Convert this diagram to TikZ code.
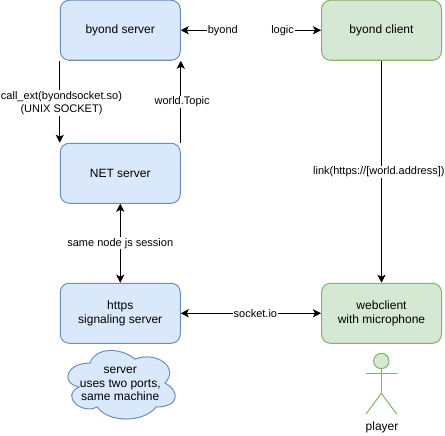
\documentclass[tikz,border=0pt]{standalone}
\usepackage{fontspec}
\setmainfont{Liberation Sans}
\usetikzlibrary{arrows.meta}
\definecolor{bluefill}{HTML}{DAE8FC}
\definecolor{bluedraw}{HTML}{6C8EBF}
\definecolor{greenfill}{HTML}{D5E8D4}
\definecolor{greendraw}{HTML}{82B366}
\tikzset{
  bluebox/.style={draw=bluedraw,fill=bluefill,rounded corners=6.75pt,minimum width=90pt,minimum height=45pt,inner sep=0pt,align=center,font=\fontsize{9}{10.8}\selectfont,line width=0.75pt},
  greenbox/.style={bluebox,draw=greendraw,fill=greenfill},
  conn/.style={line width=0.75pt,-{Stealth[length=6pt,width=6pt,inset=1.5pt]}},
  biconn/.style={line width=0.75pt,{Stealth[length=6pt,width=6pt,inset=1.5pt]}-{Stealth[length=6pt,width=6pt,inset=1.5pt]}},
  lab/.style={fill=white,inner sep=0.6pt,align=center,font=\fontsize{8.25}{10.1}\selectfont},
  bluecloud/.style={draw=bluedraw,fill=bluefill,line width=0.75pt},
  figure/.style={draw=greendraw,line width=0.75pt}
}
\begin{document}
\begin{tikzpicture}[x=0.75pt,y=-0.75pt]
\useasboundingbox (0,0) rectangle (445,435);
\node[bluebox] (bs) at (120.25,30.25) {byond server};
\node[bluebox] (net) at (120.25,173.25) {NET server};
\node[bluebox] (sig) at (120.25,313.25) {https\\signaling server};
\node[greenbox] (bc) at (381.5,30.25) {byond client};
\node[greenbox] (wc) at (381.5,313.25) {webclient\\with microphone};
\draw[conn] (bs.south west) -- (net.north west) node[lab,midway,xshift=1.3pt,yshift=-1pt] (l1) {call\_ext(byondsocket.so)\\(UNIX SOCKET)};
\draw[conn] (net.north east) -- (bs.south east) node[lab,midway,xshift=1pt] (l2) {world.Topic};
\draw[biconn] (net.south) -- (sig.north) node[lab,midway] (l3) {same node js session};
\draw[biconn] (sig.east) -- (wc.west) node[lab,pos=0.532] (l4) {socket.io};
\draw[conn] (bc.south) -- (wc.north) node[lab,midway,xshift=-2pt] (l5) {link(https://[world.address])};
\draw[biconn] (bs.east) -- (bc.west)
  node[lab,midway] (l6) {\makebox[64.5pt]{byond\hfill logic}};
\begin{scope}[shift={(60,343)},x=90pt,y=-60pt]
\path[bluecloud] (0.25,0.25)
  .. controls (0.05,0.25) and (0,0.5) .. (0.16,0.55)
  .. controls (0,0.66) and (0.18,0.9) .. (0.31,0.8)
  .. controls (0.4,1) and (0.7,1) .. (0.8,0.8)
  .. controls (1,0.8) and (1,0.6) .. (0.875,0.5)
  .. controls (1,0.3) and (0.8,0.1) .. (0.625,0.2)
  .. controls (0.5,0.05) and (0.3,0.05) .. (0.25,0.25) -- cycle;
\end{scope}
\node[align=center,font=\fontsize{9}{10.35}\selectfont] (cltext) at (120.25,384) {server\\uses two ports,\\same machine};
\node[draw=greendraw,fill=greenfill,circle,minimum size=11.5pt,inner sep=0pt,line width=0.75pt] (head) at (381.3,361) {};
\coordinate (hip) at (381.3,393.3);
\coordinate (armL) at (366,373.3);
\coordinate (armR) at (396.7,373.3);
\coordinate (footL) at (366,414);
\coordinate (footR) at (396.7,414);
\draw[figure] (head.south) -- (hip);
\draw[figure] (armL) -- (armR);
\draw[figure] (footL) -- (hip) -- (footR);
\node[font=\fontsize{9}{10}\selectfont] (pl) at (382,427.5) {player};
\end{tikzpicture}
\end{document}
